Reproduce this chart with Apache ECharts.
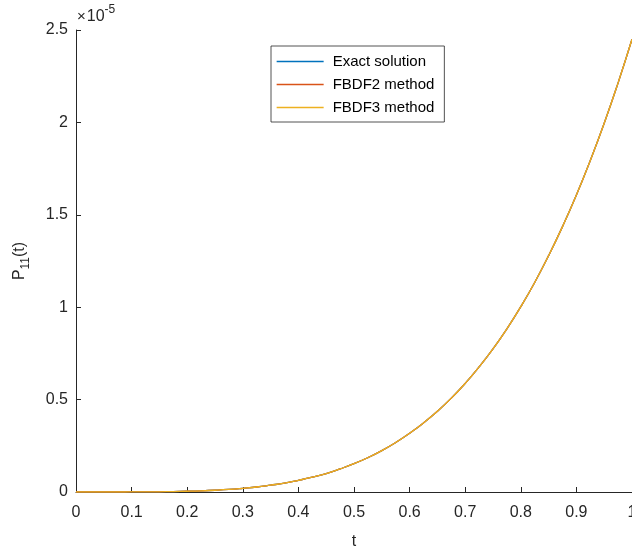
<!DOCTYPE html>
<html lang="en">
<head>
    <meta charset="UTF-8">
    <title>P11(t)</title>
    <script src="https://cdn.jsdelivr.net/npm/echarts@6/dist/echarts.min.js"></script>
    <style>
        html, body { margin: 0; padding: 0; background: #fff; }
        #container { width: 632px; height: 546px; }
    </style>
</head>
<body>
<div id="container"></div>
<script type="text/javascript">
    // values in units of 1e-5
    let tValues = [0, 0.025, 0.05, 0.075, 0.1, 0.125, 0.15, 0.175, 0.2, 0.225, 0.25,
        0.275, 0.3, 0.325, 0.35, 0.375, 0.4, 0.425, 0.45, 0.475, 0.5,
        0.525, 0.55, 0.575, 0.6, 0.625, 0.65, 0.675, 0.7, 0.725, 0.75,
        0.775, 0.8, 0.825, 0.85, 0.875, 0.9, 0.925, 0.95, 0.975, 1];
    let exactVals = [0, 0, 0, 0.0001, 0.0002, 0.0006, 0.0012, 0.0023, 0.004, 0.0063, 0.0096,
        0.014, 0.020, 0.027, 0.037, 0.048, 0.063, 0.080, 0.100, 0.125, 0.153,
        0.186, 0.224, 0.268, 0.318, 0.374, 0.437, 0.508, 0.588, 0.677, 0.775,
        0.883, 1.003, 1.134, 1.279, 1.436, 1.607, 1.794, 1.995, 2.214, 2.450];
    let fbdf2Vals = [0, 0, 0, 0.0001, 0.0002, 0.0006, 0.0012, 0.0023, 0.004, 0.0063, 0.0096,
        0.014, 0.020, 0.027, 0.037, 0.048, 0.063, 0.080, 0.100, 0.125, 0.153,
        0.186, 0.224, 0.268, 0.318, 0.374, 0.437, 0.508, 0.588, 0.677, 0.775,
        0.883, 1.003, 1.134, 1.279, 1.436, 1.607, 1.794, 1.995, 2.214, 2.450];
    let fbdf3Vals = [0, 0, 0, 0.0001, 0.0002, 0.0006, 0.0012, 0.0023, 0.004, 0.0063, 0.0096,
        0.014, 0.020, 0.027, 0.037, 0.048, 0.063, 0.080, 0.100, 0.125, 0.153,
        0.186, 0.224, 0.268, 0.318, 0.374, 0.437, 0.508, 0.588, 0.677, 0.775,
        0.883, 1.003, 1.134, 1.279, 1.436, 1.607, 1.794, 1.995, 2.214, 2.450];
    let seriesNames = ['Exact solution', 'FBDF2 method', 'FBDF3 method'];
    let xTickLabels = ['0', '0.1', '0.2', '0.3', '0.4', '0.5', '0.6', '0.7', '0.8', '0.9', '1'];
    let yTickLabels = ['0', '0.5', '1', '1.5', '2', '2.5'];

    let font = 'Liberation Sans, Arial, Helvetica, sans-serif';
    let axisColor = '#262626';

    function pairs(vals) {
        return tValues.map((t, i) => [t, vals[i]]);
    }

    let myChart = echarts.init(document.getElementById('container'));
    let option = {
        animation: false,
        color: ['#0072BD', '#D95319', '#EDB120'],
        grid: {left: 76, right: 0, top: 30, bottom: 54, outerBoundsMode: 'none', containLabel: false},
        legend: {
            orient: 'vertical',
            left: 271,
            top: 46,
            width: 172,
            padding: [8, 10, 7, 5],
            itemGap: 8,
            itemWidth: 47,
            itemHeight: 14,
            itemStyle: {opacity: 0},
            lineStyle: {width: 1.3},
            borderColor: axisColor,
            borderWidth: 0.8,
            backgroundColor: '#fff',
            data: seriesNames,
            textStyle: {fontFamily: font, fontSize: 15, color: '#000', padding: [0, 0, 0, 4]}
        },
        xAxis: {
            type: 'value',
            min: 0, max: 1, interval: 0.1,
            name: 't',
            nameLocation: 'middle',
            nameGap: 42,
            nameTextStyle: {fontFamily: font, fontSize: 16, color: axisColor},
            splitLine: {show: false},
            axisLine: {lineStyle: {color: axisColor, width: 1}},
            axisTick: {inside: true, length: 5, lineStyle: {color: axisColor}},
            axisLabel: {
                margin: 13, fontFamily: font, fontSize: 16, color: axisColor,
                formatter: (v) => xTickLabels[Math.round(v * 10)]
            }
        },
        yAxis: {
            type: 'value',
            min: 0, max: 2.5, interval: 0.5,
            name: '{a|P}{b|11}{a|(t)}',
            nameLocation: 'middle',
            nameRotate: 90,
            nameGap: 44,
            nameTextStyle: {
                fontFamily: font, color: axisColor,
                rich: {
                    a: {fontFamily: font, fontSize: 16, color: axisColor, lineHeight: 18},
                    b: {fontFamily: font, fontSize: 12, color: axisColor, padding: [12, 0, 0, 0]}
                }
            },
            splitLine: {show: false},
            axisLine: {show: true, lineStyle: {color: axisColor, width: 1}},
            axisTick: {show: true, inside: true, length: 5, lineStyle: {color: axisColor}},
            axisLabel: {
                margin: 8, fontFamily: font, fontSize: 16, color: axisColor,
                formatter: (v) => yTickLabels[Math.round(v * 2)]
            }
        },
        graphic: [{
            type: 'text',
            left: 77,
            top: 4,
            style: {
                text: '{x|×}{m|10}{s|-5}',
                rich: {
                    x: {fontFamily: font, fontSize: 15, fill: axisColor, padding: [6, 1, 0, 0]},
                    m: {fontFamily: font, fontSize: 16, fill: axisColor, padding: [6, 0, 0, 0]},
                    s: {fontFamily: font, fontSize: 12, fill: axisColor, padding: [0, 0, 8, 0]}
                }
            }
        }],
        series: [
            {name: seriesNames[0], type: 'line', data: pairs(exactVals), symbol: 'none', smooth: true, lineStyle: {width: 1.3}},
            {name: seriesNames[1], type: 'line', data: pairs(fbdf2Vals), symbol: 'none', smooth: true, lineStyle: {width: 1.3}},
            {name: seriesNames[2], type: 'line', data: pairs(fbdf3Vals), symbol: 'none', smooth: true, lineStyle: {width: 1.3}}
        ]
    };
    myChart.setOption(option);
</script>
</body>
</html>
